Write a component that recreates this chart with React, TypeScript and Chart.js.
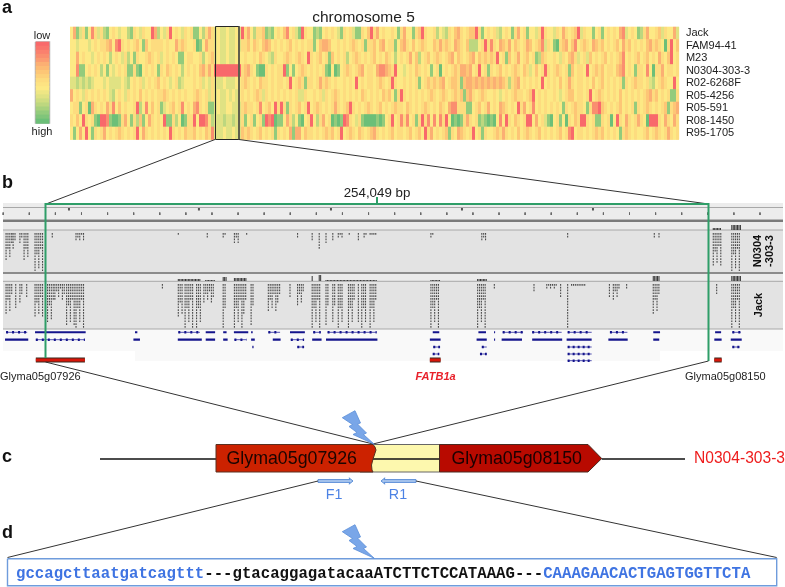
import React, { useEffect, useRef } from "react";
import { Chart, registerables } from "chart.js";

Chart.register(...registerables);

/* ---------- panel a: heat map, one digit per column (0 = high, 9 = low) ---------- */
const varieties = ["Jack", "FAM94-41", "M23", "N0304-303-3", "R02-6268F", "R05-4256", "R05-591", "R08-1450", "R95-1705"];
const heatJack = "4713514853 5214543442 1543544972 4359454354 5114257534 3343343957 4255612145 4684531954 4121454543 1545311546 9574544541 5744156954 4524325467 5456695145 4532454157 4514435954 4354754569 3544145145 4547834541 2574456354 473";
const heatFam = "4434443454 5567489545 4564164555 5454475654 4501475534 3343343556 4654676454 5456454545 5146776445 4545654515 5646745514 6754645654 4657565476 5462224595 8547657465 4576456835 4105674684 5654765645 4564756454 5467565405 946";
const heatM23 = "4474544345 4542454352 4154456545 3454541145 5445245634 3343344454 4546543254 4565456549 5456451645 4524565454 5645465424 5457462456 4565456746 5456746565 6594516457 4564512654 4543546753 4536454564 5456845456 4564547546 945";
const heatN0304 = "4481145454 2414345451 1510454541 5465454245 4546757599 9999999567 5410054545 5914145654 5454510401 4565456745 5478876594 4345465454 1450454565 7767459451 5456454565 4653464595 4565451645 5494565645 5467845415 5484055745 545";
const heatR02 = "3323232344 4343333432 4545345456 4543452344 4545343533 3433344565 4546554545 5459456515 5457565454 4545494545 5456545954 4545451456 5656745665 1677676767 6767652567 4545454945 4546457545 5454645645 4545154565 5453245654 494";
const heatR054 = "7454354545 4543245435 4546454545 5654545454 4565453534 3343434545 4565354545 4545453354 4545354565 4545454654 5454656415 9545454545 6545654565 6167545654 4543454565 5456945454 4543456645 5459456545 4546454545 4567564545 115";
const heatR055 = "4551450754 5475846454 4592484645 1345645845 4785451134 3344333565 5458456495 9515456459 4565454575 4569545456 5456454565 5465454565 4546547885 5511456457 4547654549 5745845454 5454154565 5415889654 5456454515 4565454561 567";
const heatR08 = "5464954510 9981001574 1526147545 4911524015 5949985233 3233233514 5145198901 1475241045 9425745010 1985435100 0010145945 8584515958 4848594010 1575451210 1048495465 4599474531 0451405465 9954511545 0495475457 5409995475 475";
const heatR95 = "4147494154 5745456545 4594754545 4549545465 5645465833 3433433656 5456454515 4547177465 5454565645 9456546545 6754545645 5456456495 7454561547 6545945154 4565754546 4565456454 5456458945 5454565645 4541565454 4564565457 545";
const heatRows = [heatJack, heatFam, heatM23, heatN0304, heatR02, heatR054, heatR055, heatR08, heatR95];
const heatPalette = ["#6cbf78", "#93cb7c", "#bdd77f", "#e0e283", "#fde985", "#fddc7f", "#fdc676", "#fbaf73", "#fa8e6f", "#f8696b"];
const legendShades = ["#f8696b", "#f9746c", "#fa806e", "#fa8e6f", "#fb9c71", "#fbaf73", "#fcbb74", "#fdc676", "#fdd17a", "#fddc7f", "#fde382", "#fde985", "#eee684", "#e0e283", "#cfdd81", "#bdd77f", "#a8d17d", "#93cb7c", "#80c57a", "#6cbf78"];

/* ---------- panel b: browser tracks, positions in kb from the left end of the 254,049 bp window ---------- */
const rulerTicks = [-16.4, -6.4, 3.6, 13.6, 23.6, 33.6, 43.6, 53.6, 63.6, 73.6, 83.6, 93.6, 103.6, 113.6, 123.6, 133.6, 143.6, 153.6, 163.6, 173.6, 183.6, 193.6, 203.6, 213.6, 223.6, 233.6, 243.6, 253.6, 263.6, 273.6];
const rulerMajor = [8.8, 58.6, 109.2, 159.4, 209.6];
// [start kb, end kb, read depth]
const readsN0304 = [[-15.3, -13.1, 10], [-12.6, -11.5, 6], [-10, -8.8, 4], [-8.4, -6.9, 10], [-4.2, -0.8, 14], [2.4, 2.6, 2], [11.5, 14.6, 3], [50.7, 50.9, 1], [61.8, 62, 2], [67.9, 69, 2], [72.2, 73.7, 4], [76.9, 77.1, 1], [96.4, 96.6, 2], [102, 102.4, 3], [104.7, 105.3, 6], [107.3, 107.5, 4], [109.9, 110.6, 3], [112, 113.9, 2], [116.2, 116.4, 1], [119.7, 120.3, 3], [121.9, 122.9, 2], [124.2, 126.7, 1], [147.5, 148.8, 2], [167, 168.9, 3], [199.9, 200.1, 2], [233.1, 233.3, 2], [234.9, 235.1, 2], [255.7, 258.9, 12], [262.8, 266.2, 14]];
const readsJack = [[-15.3, -13.1, 11], [-11.6, -11.4, 9], [-10, -8.8, 7], [-7.4, -6.9, 5], [-4.2, -1, 12], [0.6, 2.8, 14], [3.4, 7.3, 6], [7.9, 11.1, 15], [11.5, 14.9, 16], [44.6, 44.8, 2], [50.7, 52.6, 12], [53.3, 56.4, 16], [57.7, 59.3, 16], [60.5, 64.8, 7], [67.9, 69.2, 16], [72.2, 77.1, 16], [78.6, 79.7, 15], [85.2, 89.7, 10], [93.5, 93.7, 5], [96.4, 98.6, 8], [102, 105.3, 16], [107.3, 108.2, 15], [109.9, 110.7, 14], [112, 113.9, 16], [115.9, 118.4, 16], [119.7, 119.9, 14], [121, 122.9, 16], [124.2, 126.7, 16], [147.5, 151, 16], [165.4, 168.9, 16], [171.8, 172, 2], [187, 187.2, 3], [191.9, 195.7, 2], [197.2, 197.4, 5], [199.9, 200.3, 16], [201.4, 206.5, 1], [215.9, 216.1, 5], [217.4, 220, 6], [222.5, 222.7, 2], [232.7, 234.9, 11], [257, 257.2, 4], [262.8, 266.2, 16]];
// share of a stack's depth reached by its successive columns
const columnTaper = [1, 0.55, 0.9, 0.4, 1, 0.7, 0.35, 0.85];
// [start kb, end kb, peak height]
const coverageN0304 = [[255.7, 258.9, 2], [262.8, 266.2, 5]];
const coverageJack = [[50.7, 59.3, 2], [61.2, 64.8, 1], [67.9, 69.2, 4], [72.2, 77.1, 3], [102, 102.4, 5], [104.7, 105.3, 6], [107.3, 126.7, 1], [147.5, 151, 1], [165.4, 168.9, 2], [232.7, 234.9, 5], [262.8, 266.2, 5]];
const geneSolid1 = [[-4.2, 15.2], [34.1, 35], [61.2, 64.8], [67.9, 69.2], [72, 77.5], [78.6, 79.2], [93.5, 99.2], [148.2, 150.7], [165.7, 168.6], [171.7, 172.1], [232.7, 235.3], [256.4, 258.7]];
const geneExon1 = [[-15.3, -7.2], [50.7, 59], [85.2, 89.7], [102.4, 105.3], [107.9, 126.7], [175, 182.8], [186.3, 197.6], [199.9, 209.1], [216.1, 222.8], [263, 266.2]];
const geneSolid2 = [[-15.7, -6.8], [33.5, 36], [50.5, 59.7], [61.2, 64.8], [67.9, 69.6], [78.6, 80], [86.9, 89.9], [102, 105.6], [107.3, 127], [147.1, 151.2], [165, 168.9], [171.7, 172.1], [174.6, 182.4], [186.3, 197.8], [199.5, 209.1], [215.5, 222.9], [232.7, 235], [256.1, 258.9], [262.4, 266.6]];
const geneExon2 = [[-3.9, 14.9], [72.2, 76.9], [93.8, 98.9]];
const geneExon3 = [[79.1, 79.5], [96.3, 98.9], [148.4, 151], [167, 168.9], [199.9, 209.1], [263, 265.8]];
const geneExon4 = [[148.2, 150.7], [166.3, 168.9], [199.9, 209.1]];
const geneExon5 = [[199.9, 209.1]];
const redGenes = [[-3.9, 14.9], [147.1, 151.2], [256.1, 258.9]];

/* ---------- panel d: sequence ---------- */
const seqParts = [
  ["gccagcttaatgatcagttt", "#3f74e2"],
  ["---", "#111111"],
  ["gtacaggagatacaaATCTTCTCCATAAAG", "#111111"],
  ["---", "#111111"],
  ["CAAAGAACACTGAGTGGTTCTA", "#3f74e2"],
];

type P = { x: number; y: number | null };
let order = 0;
const lineSet = (data: P[], color: any, width: number, extra: any = {}, xAxisID = "xPage", yAxisID = "yPage") => ({
  type: "line" as const,
  data,
  xAxisID,
  yAxisID,
  order: --order,
  borderColor: color,
  borderWidth: width,
  pointRadius: 0,
  tension: 0,
  fill: false,
  spanGaps: false,
  borderCapStyle: "butt",
  ...extra,
});
const pts = (list: number[][]): P[] => list.map(([x, y]) => ({ x, y }));
const poly = (list: number[][], fillC: string, stroke = "rgba(0,0,0,0)", w = 0) =>
  lineSet(pts([...list, list[0]]), stroke, w, { fill: "shape", backgroundColor: fillC });
const rect = (x0: number, x1: number, y0: number, y1: number, fillC: string, stroke = "rgba(0,0,0,0)", w = 0) =>
  poly([[x0, y0], [x1, y0], [x1, y1], [x0, y1]], fillC, stroke, w);
const segs = (list: number[][]): P[] =>
  list.flatMap(([x0, y0, x1, y1]) => [{ x: x0, y: y0 }, { x: x1, y: y1 }, { x: x1, y: null }]);
const kbLine = (ranges: number[][], y: number, color: string, width: number, extra: any = {}) =>
  lineSet(segs(ranges.map(([a, b]) => [a, y, b, y])), color, width, extra, "xKb");

const readColumns = (stacks: number[][], top: number): number[][] => {
  const out: number[][] = [];
  for (const [a, b, n] of stacks) {
    let i = 0;
    for (let k = a; k <= b + 0.01; k += 0.72) {
      const depth = Math.max(1, Math.round(n * columnTaper[i++ % columnTaper.length]));
      out.push([k, top, k, top + depth * 2.8]);
    }
  }
  return out;
};
const coverageColumns = (stacks: number[][], base: number): number[][] => {
  const out: number[][] = [];
  for (const [a, b, h] of stacks) {
    for (let k = a; k <= b + 0.01; k += 0.55) out.push([k, base, k, base - h]);
  }
  return out;
};
const bolt = (dy: number) =>
  poly(
    [[342.3, 417.7], [355, 410.7], [360.5, 423], [357.5, 424], [366.5, 433], [363.5, 434.5], [374.3, 444.3], [353, 434.5], [357, 432.5], [349, 426.5], [352.5, 424.5]].map(([x, y]) => [x, y + dy]),
    "#79a6e8",
    "#5b8ed8",
    0.8
  );

const texts: any[] = [
  { t: "a", x: 2, y: 13, f: "bold 18px 'Liberation Sans'", c: "#111" },
  { t: "b", x: 2, y: 188, f: "bold 18px 'Liberation Sans'", c: "#111" },
  { t: "c", x: 2, y: 462, f: "bold 18px 'Liberation Sans'", c: "#111" },
  { t: "d", x: 2, y: 538, f: "bold 18px 'Liberation Sans'", c: "#111" },
  { t: "low", x: 42, y: 39, f: "11px 'Liberation Sans'", c: "#222", a: "center" },
  { t: "high", x: 42, y: 135, f: "11px 'Liberation Sans'", c: "#222", a: "center" },
  { t: "chromosome 5", x: 363.5, y: 22, f: "15.5px 'Liberation Sans'", c: "#222", a: "center" },
  { t: "254,049 bp", x: 377, y: 196.5, f: "13.3px 'Liberation Sans'", c: "#222", a: "center" },
  { t: "Glyma05g07926", x: 0, y: 380, f: "11px 'Liberation Sans'", c: "#222" },
  { t: "FATB1a", x: 415.5, y: 380, f: "italic bold 11px 'Liberation Sans'", c: "#e8202a" },
  { t: "Glyma05g08150", x: 685, y: 380, f: "11px 'Liberation Sans'", c: "#222" },
  { t: "N0304", x: 761, y: 251, f: "bold 11px 'Liberation Sans'", c: "#111", a: "center", r: -90 },
  { t: "-303-3", x: 773, y: 251, f: "bold 11px 'Liberation Sans'", c: "#111", a: "center", r: -90 },
  { t: "Jack", x: 761.5, y: 305, f: "bold 11px 'Liberation Sans'", c: "#111", a: "center", r: -90 },
  { t: "Glyma05g07926", x: 226.5, y: 464, f: "17.8px 'Liberation Sans'", c: "#1c0500" },
  { t: "Glyma05g08150", x: 451.5, y: 464, f: "17.8px 'Liberation Sans'", c: "#1c0000" },
  { t: "N0304-303-3", x: 694, y: 463, f: "15.6px 'Liberation Sans'", c: "#ee1c1c" },
  { t: "F1", x: 334, y: 499, f: "14.3px 'Liberation Sans'", c: "#4c82e4", a: "center" },
  { t: "R1", x: 398, y: 499, f: "14.3px 'Liberation Sans'", c: "#4c82e4", a: "center" },
];

const textPlugin = {
  id: "pageText",
  afterDatasetsDraw(chart: any) {
    const { ctx, scales } = chart;
    const X = scales.xPage;
    const Y = scales.yPage;
    ctx.save();
    ctx.textBaseline = "alphabetic";
    const base = (t: any) => {
      ctx.save();
      ctx.translate(X.getPixelForValue(t.x), Y.getPixelForValue(t.y));
      if (t.r) ctx.rotate((t.r * Math.PI) / 180);
      ctx.font = t.f;
      ctx.fillStyle = t.c;
      ctx.textAlign = t.a || "left";
      ctx.fillText(t.t, 0, 0);
      ctx.restore();
    };
    texts.forEach(base);
    // row labels follow the heat map's own row scale
    const colX = scales.xCol.getPixelForValue(205.3);
    ctx.font = "11px 'Liberation Sans'";
    ctx.fillStyle = "#222";
    ctx.textAlign = "left";
    ctx.textBaseline = "middle";
    varieties.forEach((v, i) => ctx.fillText(v, colX, scales.yRow.getPixelForValue(i + 0.5)));
    // the sequence
    ctx.textBaseline = "alphabetic";
    ctx.font = "bold 15.7px 'Liberation Mono'";
    let sx = X.getPixelForValue(16);
    const sy = Y.getPixelForValue(577.7);
    seqParts.forEach(([s, c]) => {
      ctx.fillStyle = c;
      ctx.fillText(s, sx, sy);
      sx += ctx.measureText(s).width;
    });
    ctx.restore();
  },
};

export default function App() {
  const ref = useRef<HTMLCanvasElement>(null);
  useEffect(() => {
    order = 0;
    const canvas = ref.current as HTMLCanvasElement;
    const heatBase = rect(70, 679.2, 27, 139.5, "#fce588");
    const heatSets = heatRows.map((row, r) => {
      const digits = Array.from(row.replace(/ /g, "")).map(Number);
      return {
        type: "bar" as const,
        label: varieties[r],
        data: digits.map((_, c) => ({ x: c + 0.5, y: [r, r + 1] })),
        xAxisID: "xCol",
        yAxisID: "yRow",
        order: --order,
        grouped: false,
        barThickness: 2.3,
        borderWidth: 0,
        borderSkipped: false,
        backgroundColor: digits.map((d) => heatPalette[d]),
      };
    });

    const barStep = 81 / legendShades.length;
    const colourBar = {
      type: "bar" as const,
      data: legendShades.map((_, i) => ({ x: 42.5, y: [42 + i * barStep, 42 + (i + 1) * barStep + 0.4] })),
      xAxisID: "xPage",
      yAxisID: "yPage",
      order: -1000,
      grouped: false,
      barThickness: 13,
      borderWidth: 0,
      borderSkipped: false,
      backgroundColor: legendShades,
    };

    const grey = "#e3e3e3";
    const datasets: any[] = [
      // panel a
      heatBase,
      ...heatSets,
      rect(35.5, 49.5, 42, 123, "#ffffff", "#b5b5b5", 1.5),
      rect(215.5, 239, 26.5, 139.5, "rgba(0,0,0,0)", "#262626", 1),
      lineSet(pts([[239, 26.5], [239, 139.5]]), "#6a6a55", 1.6),
      lineSet(segs([[215, 139.5, 46, 204], [239, 139.5, 708.5, 204]]), "#333333", 1),
      // panel b: browser background
      rect(3, 783, 329, 351, "#f9f9f9"),
      rect(135, 660, 351, 361, "#f9f9f9"),
      rect(3, 783, 203, 219.5, "#ececec"),
      rect(3, 783, 219.5, 222, "#7a7a7a"),
      rect(3, 783, 222, 230, "#ebebeb"),
      rect(3, 783, 230, 272, grey),
      rect(3, 783, 272, 274, "#8c8c8c"),
      rect(3, 783, 274, 281, "#ebebeb"),
      rect(3, 783, 281, 329, grey),
      lineSet(segs([[3, 207.5, 783, 207.5], [3, 230, 783, 230], [3, 281.3, 783, 281.3], [3, 329, 783, 329]]), "#a8a8a8", 1),
      lineSet(segs(rulerTicks.map((k) => [k, 212.5, k, 215])), "#666666", 1, {}, "xKb"),
      lineSet(segs(rulerMajor.map((k) => [k, 208, k, 210.5])), "#555555", 2, {}, "xKb"),
      lineSet(segs(readColumns(readsN0304, 233)), "rgba(15,15,15,0.72)", 1.1, { borderDash: [1.7, 1.1] }, "xKb"),
      lineSet(segs(readColumns(readsJack, 284)), "rgba(15,15,15,0.72)", 1.1, { borderDash: [1.7, 1.1] }, "xKb"),
      lineSet(segs(coverageColumns(coverageN0304, 230)), "#333333", 1, {}, "xKb"),
      lineSet(segs(coverageColumns(coverageJack, 281)), "#333333", 1, {}, "xKb"),
      // gene models
      kbLine(geneSolid1, 332.3, "#14148c", 2),
      kbLine(geneExon1, 332.3, "#2a2aa0", 0.8),
      kbLine(geneExon1, 332.3, "#14148c", 2.6, { borderDash: [2, 4] }),
      kbLine(geneSolid2, 339.7, "#14148c", 2.2),
      kbLine(geneExon2, 339.7, "#2a2aa0", 0.8),
      kbLine(geneExon2, 339.7, "#14148c", 2.6, { borderDash: [2, 4] }),
      kbLine(geneExon3, 347, "#2a2aa0", 0.8),
      kbLine(geneExon3, 347, "#14148c", 2.6, { borderDash: [2, 3] }),
      kbLine(geneExon4, 354, "#2a2aa0", 0.8),
      kbLine(geneExon4, 354, "#14148c", 2.6, { borderDash: [2, 3] }),
      kbLine(geneExon5, 360.7, "#2a2aa0", 0.8),
      kbLine(geneExon5, 360.7, "#14148c", 2.6, { borderDash: [2, 3] }),
      kbLine(redGenes, 360, "#3a2a20", 5),
      kbLine(redGenes, 360, "#d8160a", 3),
      // green window
      lineSet(pts([[45.5, 358], [45.5, 204], [708.5, 204], [708.5, 361]]), "#2f9e68", 2),
      lineSet(pts([[377, 197], [377, 204]]), "#2f9e68", 2),
      // links b -> c
      lineSet(segs([[45.5, 362, 373, 444], [708.5, 361, 373, 444]]), "#333333", 1),
      // panel c
      lineSet(pts([[100, 459], [216, 459]]), "#111111", 1.6),
      rect(360, 439.5, 444.5, 472, "#fdf8ae", "#666666", 1),
      lineSet(pts([[360, 459], [439.5, 459]]), "#111111", 1.6),
      poly([[216, 444.5], [373, 444.5], [375, 447], [376, 450], [375, 453], [373, 459], [371.5, 465], [372, 470], [373, 472], [216, 472]], "#cc2200", "#5a3020", 1),
      poly([[439.5, 444.5], [588, 444.5], [601.7, 458.5], [588, 472], [439.5, 472]], "#b80a00", "#4a2a20", 1),
      lineSet(pts([[601.7, 459], [685, 459]]), "#111111", 1.6),
      bolt(0),
      // primers
      poly([[318, 479.6], [350, 479.6], [349, 477.8], [353, 481], [349, 484.2], [350, 482.4], [318, 482.4]], "#a9c6ee", "#5c8fd8", 1),
      poly([[416, 479.6], [384, 479.6], [385, 477.8], [381, 481], [385, 484.2], [384, 482.4], [416, 482.4]], "#a9c6ee", "#5c8fd8", 1),
      // links c -> d
      lineSet(segs([[318, 481, 7.5, 557.5], [416, 481, 776.7, 557.5]]), "#333333", 1),
      // panel d
      rect(7.5, 776.7, 558.7, 585.7, "#ffffff", "#6f9cdc", 1.4),
      bolt(114),
      colourBar,
    ];

    const chart = new Chart(canvas, {
      type: "bar",
      data: { datasets },
      plugins: [textPlugin],
      options: {
        responsive: false,
        animation: false,
        devicePixelRatio: 1,
        events: [],
        layout: { padding: 0 },
        plugins: { legend: { display: false }, tooltip: { enabled: false }, title: { display: false } },
        scales: {
          xPage: { type: "linear", axis: "x", min: 0, max: 785, display: false, offset: false },
          yPage: { type: "linear", axis: "y", min: 0, max: 587, reverse: true, display: false, beginAtZero: false },
          xKb: { type: "linear", axis: "x", min: -46 * 0.3832, max: 739 * 0.3832, display: false, offset: false },
          xCol: { type: "linear", axis: "x", min: -70 / 3, max: 715 / 3, display: false, offset: false },
          yRow: { type: "linear", axis: "y", min: -27 / 12.5, max: 560 / 12.5, reverse: true, display: false, beginAtZero: false },
        },
      } as any,
    } as any);
    return () => chart.destroy();
  }, []);
  return (
    <div style={{ position: "absolute", left: 0, top: 0, width: 785, height: 587, background: "#fff" }}>
      <canvas ref={ref} width={785} height={587} style={{ display: "block", width: 785, height: 587, filter: "blur(0.35px)" }} />
    </div>
  );
}
